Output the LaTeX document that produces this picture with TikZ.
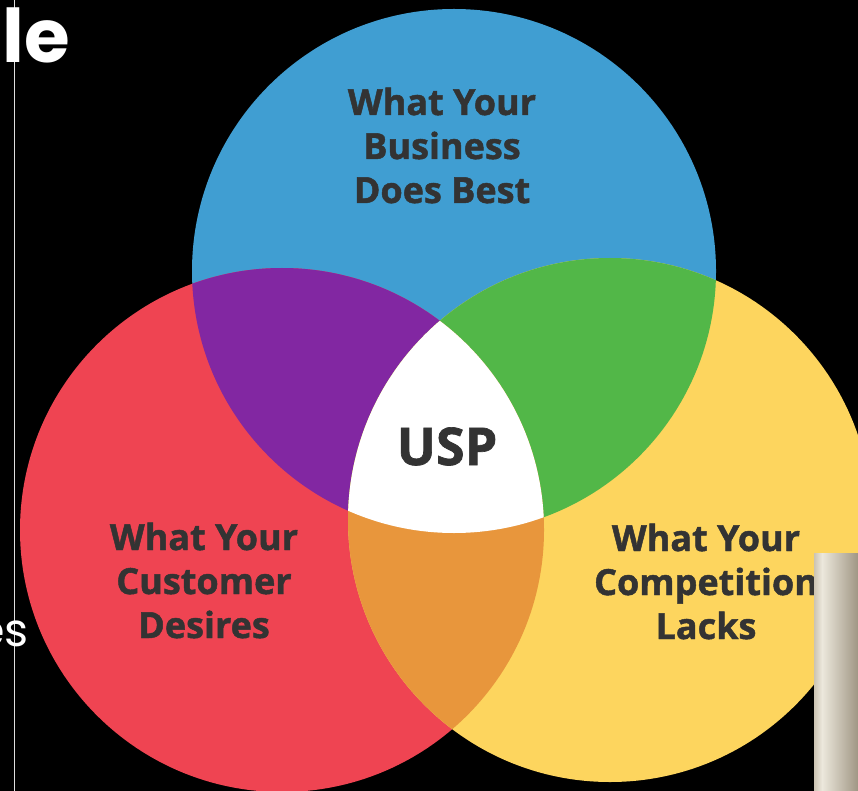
\documentclass[tikz,border=0pt]{standalone}
\usepackage{fontspec}
\setmainfont{Open Sans}[BoldFeatures={FakeBold=1.3}]
\newfontfamily\popfont{Poppins}
\definecolor{cblue}{RGB}{64,158,210}
\definecolor{cred}{RGB}{239,68,82}
\definecolor{cyellow}{RGB}{253,213,94}
\definecolor{cpurple}{RGB}{130,39,162}
\definecolor{cgreen}{RGB}{82,183,72}
\definecolor{corange}{RGB}{232,150,60}
\definecolor{txtgray}{RGB}{51,51,51}
\definecolor{beigeA}{RGB}{204,196,179}
\definecolor{beigeB}{RGB}{236,232,220}
\definecolor{beigeC}{RGB}{160,150,132}
\begin{document}
\begin{tikzpicture}[x=1pt,y=-1pt,
  lab/.style={font=\fontsize{36}{44}\selectfont\bfseries, text=txtgray, anchor=base, inner sep=0pt},
  usplab/.style={font=\fontsize{52}{60}\selectfont\bfseries, text=txtgray, anchor=base, inner sep=0pt}]
\useasboundingbox (0,0) rectangle (858,791);
\fill[black] (0,0) rectangle (858,791);
% circles
\fill[cblue] (454,271) circle[radius=262pt];
\fill[cred] (282,530) circle[radius=262pt];
\fill[cyellow] (610,520) circle[radius=262pt];
\begin{scope}
  \clip (454,271) circle[radius=262pt];
  \fill[cpurple] (282,530) circle[radius=262pt];
  \fill[cgreen] (610,520) circle[radius=262pt];
\end{scope}
\begin{scope}
  \clip (282,530) circle[radius=262pt];
  \fill[corange] (610,520) circle[radius=262pt];
  \clip (454,271) circle[radius=262pt];
  \fill[white] (610,520) circle[radius=262pt];
\end{scope}
% labels
\node[lab] (b1) at (442,115) {What Your};
\node[lab] (b2) at (442,159) {Business};
\node[lab] (b3) at (442,203) {Does Best};
\node[usplab] (usp) at (447,465) {USP};
\node[lab] (r1) at (204,550) {What Your};
\node[lab] (r2) at (204,594) {Customer};
\node[lab] (r3) at (204,638) {Desires};
\node[lab] (y1) at (706,551) {What Your};
\node[lab] (y2) at (706,595) {Competition};
\node[lab] (y3) at (706,639) {Lacks};
% side items
\draw[white!75!gray, line width=1pt] (14.5,0) -- (14.5,791);
\node[font=\popfont\bfseries\fontsize{74}{80}\selectfont, text=white, anchor=base west, inner sep=0pt] (le) at (2,63) {le};
\node[font=\popfont\fontsize{46}{50}\selectfont, text=white, anchor=base east, inner sep=0pt] (es) at (29,646) {es};
\shade[left color=beigeA, right color=beigeB] (814,553) rectangle (822,791);
\shade[left color=beigeB, right color=beigeC] (822,553) rectangle (858,791);
\end{tikzpicture}
\end{document}
